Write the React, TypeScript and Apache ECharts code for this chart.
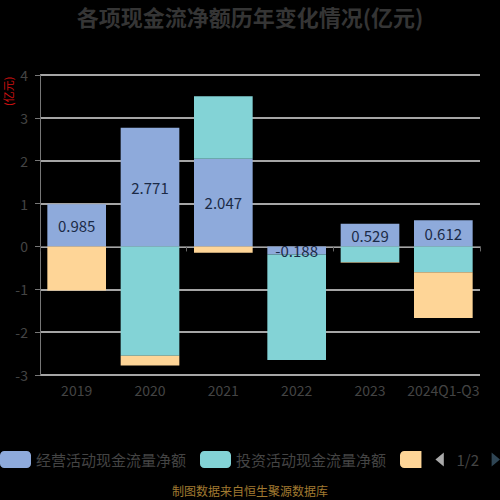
import { useEffect, useRef } from "react";
import * as echarts from "echarts";

const categories = ["2019", "2020", "2021", "2022", "2023", "2024Q1-Q3"];
const seriesNames = ["经营活动现金流量净额", "投资活动现金流量净额", "筹资活动现金流量净额"];
const operating = [0.985, 2.771, 2.047, -0.188, 0.529, 0.612];
const investing = [0, -2.55, 1.46, -2.46, -0.37, -0.6];
const financing = [-1.03, -0.23, -0.15, 0, -0.01, -1.07];
const colors = ["#8eaadb", "#83d3d6", "#fed597"];

export default function App() {
  const chartRef = useRef<HTMLDivElement>(null);

  useEffect(() => {
    if (!chartRef.current) return;
    const chart = echarts.init(chartRef.current, null, { renderer: "svg" });
    const font = "'Noto Sans CJK SC', 'Open Sans', sans-serif";

    chart.setOption({
      animation: false,
      backgroundColor: "#000000",
      color: colors,
      textStyle: { fontFamily: font },
      title: {
        text: "各项现金流净额历年变化情况(亿元)",
        left: "center",
        top: 0,
        textStyle: { color: "#353535", fontSize: 22, fontWeight: "bold", fontFamily: font },
      },
      legend: {
        type: "scroll",
        data: seriesNames,
        left: 0,
        right: 0,
        top: 451,
        padding: 0,
        itemWidth: 31,
        itemHeight: 17,
        itemGap: 14,
        textStyle: { color: "#444444", fontSize: 15 },
        pageIconColor: "#2f4554",
        pageIconInactiveColor: "#aaaaaa",
        pageIconSize: 14,
        pageButtonItemGap: 6,
        pageTextStyle: { color: "#444444", fontSize: 15 },
      },
      grid: { left: 40, right: 20, top: 75, bottom: 125 },
      xAxis: [
        {
          type: "category",
          data: categories,
          position: "bottom",
          axisLine: { show: false, onZero: false },
          axisTick: { show: false },
          axisLabel: { color: "#444444", fontSize: 14, margin: 8, interval: 0 },
        },
        {
          type: "category",
          data: categories,
          position: "bottom",
          axisLine: { show: true, onZero: true, lineStyle: { color: "#666666" } },
          axisTick: { show: true, length: 5, lineStyle: { color: "#666666" } },
          axisLabel: { show: false },
        },
      ],
      yAxis: {
        type: "value",
        min: -3,
        max: 4,
        interval: 1,
        axisLine: { show: true, lineStyle: { color: "#777777" } },
        axisTick: { show: true, lineStyle: { color: "#777777" } },
        axisLabel: { color: "#444444", fontSize: 14, margin: 12 },
        splitLine: { show: true, lineStyle: { color: "#dddddd", width: 1.5 } },
      },
      series: [
        {
          name: seriesNames[0],
          type: "bar",
          stack: "total",
          barWidth: "80%",
          data: operating,
          label: {
            show: true,
            position: "inside",
            color: "#1b2a47",
            fontSize: 15,
            formatter: (p: { value: number }) => p.value.toFixed(3),
          },
        },
        { name: seriesNames[1], type: "bar", stack: "total", barWidth: "80%", data: investing },
        { name: seriesNames[2], type: "bar", stack: "total", barWidth: "80%", data: financing },
      ],
      graphic: [
        {
          type: "text",
          x: 2,
          y: 106,
          rotation: Math.PI / 2,
          style: { text: "(亿元)", fill: "#cc1111", fontSize: 11, fontFamily: font },
        },
        {
          type: "text",
          left: "center",
          top: 484,
          style: { text: "制图数据来自恒生聚源数据库", fill: "#a07a30", fontSize: 12, fontFamily: font },
        },
      ],
    });

    return () => {
      chart.dispose();
    };
  }, []);

  return (
    <div
      ref={chartRef}
      style={{ position: "fixed", left: 0, top: 0, width: "500px", height: "500px" }}
    />
  );
}
